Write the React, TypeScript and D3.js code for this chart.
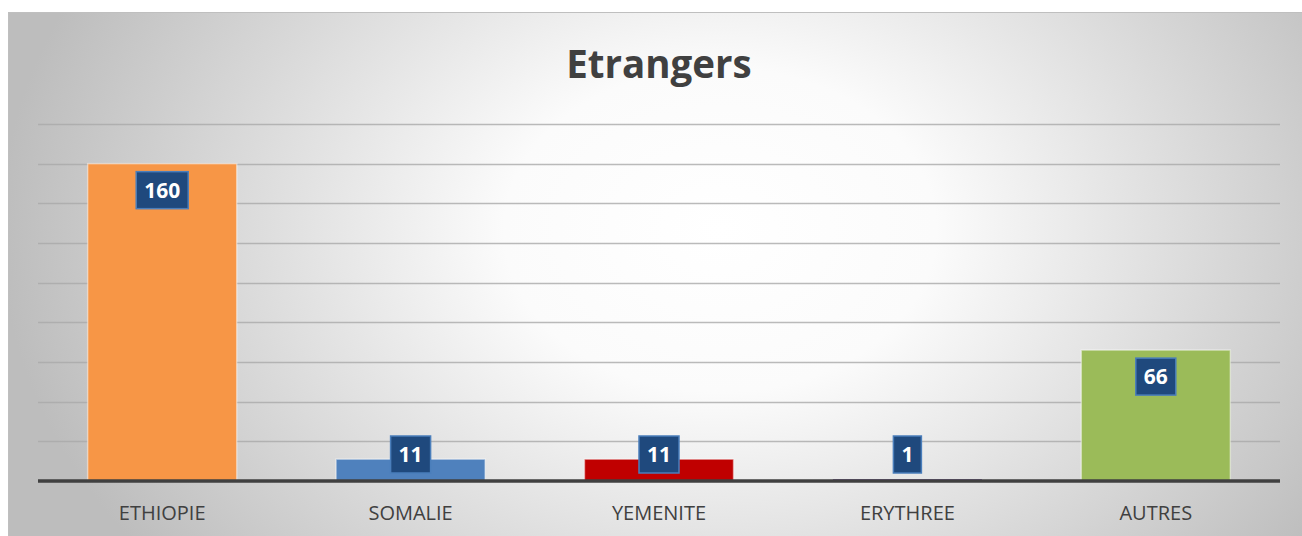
import React, { useEffect, useRef } from 'react';
import * as d3 from 'd3';

const title = 'Etrangers';
const categories = ['ETHIOPIE', 'SOMALIE', 'YEMENITE', 'ERYTHREE', 'AUTRES'];
const values = [160, 11, 11, 1, 66];
const barColors = ['#F79646', '#4F81BD', '#C00000', '#8064A2', '#9BBB59'];
const yTicks = [0, 20, 40, 60, 80, 100, 120, 140, 160, 180];

const W = 1302;
const H = 536;

export default function App() {
  const ref = useRef<SVGSVGElement>(null);

  useEffect(() => {
    if (!ref.current) return;
    const svg = d3.select(ref.current);
    svg.selectAll('*').remove();

    const margin = { left: 38, right: 22, top: 124, bottom: 55 };
    const innerW = W - margin.left - margin.right;
    const baseline = 481;

    // background gradient
    const defs = svg.append('defs');
    const grad = defs.append('radialGradient')
      .attr('id', 'bg')
      .attr('gradientUnits', 'userSpaceOnUse')
      .attr('cx', 720).attr('cy', 230).attr('r', 720)
      .attr('gradientTransform', 'translate(720,230) scale(1,0.75) translate(-720,-230)');
    grad.append('stop').attr('offset', '0%').attr('stop-color', '#ffffff');
    grad.append('stop').attr('offset', '30%').attr('stop-color', '#fbfbfb');
    grad.append('stop').attr('offset', '100%').attr('stop-color', '#bdbdbd');

    svg.append('rect').attr('width', W).attr('height', H).attr('fill', '#ffffff');
    svg.append('rect')
      .attr('x', 8.5).attr('y', 12.5)
      .attr('width', W).attr('height', H)
      .attr('fill', 'url(#bg)')
      .attr('stroke', '#bfbfbf').attr('stroke-width', 1);

    const x = d3.scaleBand<string>()
      .domain(categories)
      .range([margin.left, margin.left + innerW])
      .paddingInner(0.4)
      .paddingOuter(0.2);

    const y = d3.scaleLinear().domain([0, 180]).range([baseline, margin.top]);

    // gridlines
    svg.append('g')
      .selectAll('line')
      .data(yTicks.filter(t => t > 0))
      .join('line')
      .attr('x1', margin.left).attr('x2', margin.left + innerW)
      .attr('y1', d => Math.round(y(d)) + 0.5).attr('y2', d => Math.round(y(d)) + 0.5)
      .attr('stroke', '#a9a9a9')
      .attr('stroke-opacity', 0.8)
      .attr('stroke-width', 1.3);

    // bars
    svg.append('g')
      .selectAll('rect')
      .data(values)
      .join('rect')
      .attr('x', (_, i) => x(categories[i])!)
      .attr('y', d => y(d))
      .attr('width', x.bandwidth())
      .attr('height', d => baseline - y(d))
      .attr('fill', (_, i) => barColors[i])
      .attr('stroke', 'rgba(255,255,255,0.45)')
      .attr('stroke-width', d => (d > 2 ? 1.5 : 0));

    // axis line
    svg.append('line')
      .attr('x1', margin.left).attr('x2', margin.left + innerW)
      .attr('y1', baseline).attr('y2', baseline)
      .attr('stroke', '#404040').attr('stroke-width', 3.5);

    // category labels
    svg.append('g')
      .selectAll('text')
      .data(categories)
      .join('text')
      .attr('x', d => x(d)! + x.bandwidth() / 2)
      .attr('y', 520)
      .attr('text-anchor', 'middle')
      .attr('font-family', 'Open Sans, sans-serif')
      .attr('font-size', 20)
      .attr('fill', '#404040')
      .text(d => d);

    // data labels
    const boxH = 37;
    const labels = svg.append('g')
      .selectAll('g')
      .data(values)
      .join('g')
      .attr('transform', (d, i) => {
        const cx = x(categories[i])! + x.bandwidth() / 2;
        const top = Math.min(y(d) + 8, baseline - 8 - boxH);
        return `translate(${cx},${top})`;
      });
    labels.append('rect')
      .attr('x', d => -(String(d).length * 12 + 16) / 2)
      .attr('width', d => String(d).length * 12 + 16)
      .attr('height', boxH)
      .attr('fill', '#1F497D')
      .attr('stroke', '#4A7EBB')
      .attr('stroke-width', 1.5);
    labels.append('text')
      .attr('y', boxH / 2 + 7.5)
      .attr('text-anchor', 'middle')
      .attr('font-family', 'Open Sans, sans-serif')
      .attr('font-weight', 700)
      .attr('font-size', 21)
      .attr('fill', '#ffffff')
      .text(d => d);

    // title
    svg.append('text')
      .attr('x', 659).attr('y', 78)
      .attr('text-anchor', 'middle')
      .attr('font-family', 'Open Sans, sans-serif')
      .attr('font-weight', 700)
      .attr('font-size', 38.5)
      .attr('fill', '#404040')
      .text(title);
  }, []);

  return (
    <svg ref={ref} width={W} height={H}
      style={{ position: 'absolute', left: 0, top: 0, display: 'block' }} />
  );
}
